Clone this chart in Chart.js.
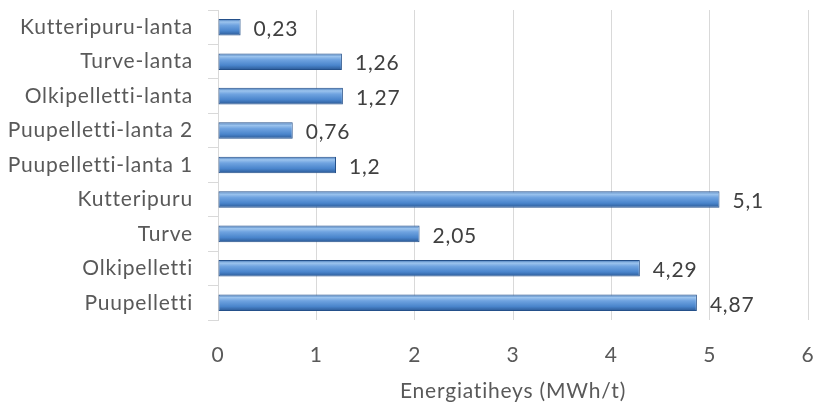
<!DOCTYPE html>
<html><head><meta charset="utf-8">
<script src="https://cdn.jsdelivr.net/npm/chart.js@4.4.1/dist/chart.umd.min.js"></script>
<style>html,body{margin:0;padding:0;background:#fff;}canvas{display:block;}</style>
</head><body>
<canvas id="c" width="815" height="406"></canvas>
<script>
const categories = ["Kutteripuru-lanta","Turve-lanta","Olkipelletti-lanta","Puupelletti-lanta 2","Puupelletti-lanta 1","Kutteripuru","Turve","Olkipelletti","Puupelletti"];
const values = [0.23,1.26,1.27,0.76,1.2,5.1,2.05,4.29,4.87];
const xTicks = [0,1,2,3,4,5,6];
const axisTitle = "Energiatiheys (MWh/t)";
const FONT = "Lato, 'Open Sans', sans-serif";

const spacingPlugin = {
  id: 'spacing',
  beforeDraw(chart) { chart.ctx.letterSpacing = '0.8px'; }
};
const gradientPlugin = {
  id: 'barGradient',
  beforeDatasetsDraw(chart) {
    const ctx = chart.ctx;
    chart.getDatasetMeta(0).data.forEach(el => {
      const p = el.getProps(['y','height'], true);
      const t = p.y - p.height/2, b = p.y + p.height/2;
      const g = ctx.createLinearGradient(0, t, 0, b);
      g.addColorStop(0, '#3d72b4');
      g.addColorStop(0.18, '#9cc4ee');
      g.addColorStop(0.38, '#6fa3e0');
      g.addColorStop(0.72, '#4a85cc');
      g.addColorStop(1, '#2a5894');
      el.options = Object.assign({}, el.options, { backgroundColor: g });
    });
  }
};
const labelPlugin = {
  id: 'valueLabels',
  afterDatasetsDraw(chart) {
    const ctx = chart.ctx;
    ctx.save();
    ctx.letterSpacing = '0.8px';
    ctx.font = "21px " + FONT;
    ctx.fillStyle = '#404040';
    ctx.textBaseline = 'middle';
    ctx.textAlign = 'left';
    chart.getDatasetMeta(0).data.forEach((el, i) => {
      const p = el.getProps(['x','y'], true);
      ctx.fillText(String(values[i]).replace('.', ','), p.x + 13, p.y + 2);
    });
    ctx.restore();
  }
};

new Chart(document.getElementById('c'), {
  type: 'bar',
  data: { labels: categories, datasets: [{ data: values, borderColor: '#24508a', borderWidth: 1, borderSkipped: false, categoryPercentage: 0.48, barPercentage: 1 }] },
  options: {
    indexAxis: 'y', responsive: false, animation: false,
    layout: { padding: { top: 10, right: 7, bottom: 0, left: 0 } },
    plugins: { legend: { display: false }, tooltip: { enabled: false } },
    scales: {
      x: {
        min: 0, max: 6,
        afterBuildTicks(s) { s.ticks = xTicks.map(v => ({ value: v })); },
        afterFit(s) { s.height = 86; s.paddingLeft = 0; s.paddingRight = 0; },
        grid: { color: '#d9d9d9', drawTicks: false },
        border: { display: false },
        ticks: { color: '#595959', font: { family: FONT, size: 21 }, padding: 23 },
        title: { display: true, text: axisTitle, color: '#595959', font: { family: FONT, size: 21 }, padding: { top: 4, bottom: 2 } }
      },
      y: {
        afterFit(s) { s.width = 218; s.paddingTop = 0; s.paddingBottom = 0; },
        grid: { drawOnChartArea: false, color: '#d9d9d9', tickLength: 10 },
        border: { display: true, color: '#d9d9d9' },
        ticks: { color: '#595959', font: { family: FONT, size: 21 }, padding: 15 }
      }
    }
  },
  plugins: [spacingPlugin, gradientPlugin, labelPlugin]
});
</script>
</body></html>
